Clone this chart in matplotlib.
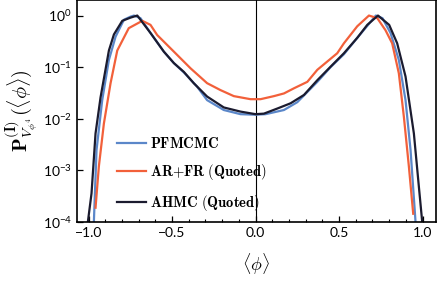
import numpy as np
import matplotlib
matplotlib.use("Agg")
import matplotlib.pyplot as plt
from matplotlib.ticker import MultipleLocator, LogLocator, NullLocator

# PFMCMC
phi_pf = [-0.968, -0.952, -0.918, -0.878, -0.838, -0.788, -0.749, -0.728, -0.689, -0.629,
          -0.549, -0.489, -0.429, -0.350, -0.290, -0.190, -0.090, 0.000, 0.060, 0.170,
          0.250, 0.370, 0.449, 0.529, 0.609, 0.669, 0.720, 0.760, 0.808, 0.858,
          0.898, 0.928, 0.958]
p_pf = [1e-4, 2.5e-3, 0.023, 0.138, 0.39, 0.83, 0.95, 1.0, 0.89, 0.46,
        0.20, 0.12, 0.079, 0.042, 0.023, 0.0148, 0.0123, 0.012, 0.0123, 0.0148,
        0.021, 0.052, 0.10, 0.178, 0.37, 0.63, 1.0, 0.89, 0.46, 0.138,
        0.023, 2.5e-3, 1e-4]

# AR+FR (Quoted)
phi_ar = [-0.958, -0.938, -0.908, -0.868, -0.828, -0.759, -0.678, -0.629, -0.589, -0.489,
          -0.389, -0.290, -0.210, -0.130, -0.030, 0.030, 0.110, 0.170, 0.230, 0.310,
          0.370, 0.489, 0.529, 0.609, 0.679, 0.729, 0.778, 0.818, 0.858, 0.888,
          0.918, 0.944]
p_ar = [1.9e-4, 1.2e-3, 8.1e-3, 0.049, 0.21, 0.57, 0.79, 0.66, 0.42, 0.20,
        0.095, 0.049, 0.036, 0.0275, 0.024, 0.024, 0.0275, 0.031, 0.039, 0.052,
        0.089, 0.186, 0.29, 0.62, 1.0, 0.89, 0.52, 0.29, 0.076, 0.011,
        1.2e-3, 1.45e-4]

# AHMC (Quoted)
phi_ah = [-1.004, -0.982, -0.958, -0.928, -0.878, -0.848, -0.798, -0.749, -0.708, -0.629,
          -0.549, -0.489, -0.429, -0.370, -0.290, -0.190, -0.090, 0.000, 0.050, 0.130,
          0.210, 0.290, 0.370, 0.449, 0.529, 0.609, 0.669, 0.733, 0.800, 0.848,
          0.898, 0.948, 0.978, 0.998]
p_ah = [1e-4, 3.6e-4, 5.2e-3, 0.026, 0.21, 0.43, 0.79, 0.91, 1.0, 0.46,
        0.20, 0.12, 0.081, 0.049, 0.027, 0.0166, 0.0138, 0.0123, 0.0126, 0.0158,
        0.020, 0.029, 0.056, 0.102, 0.186, 0.37, 0.66, 1.0, 0.66, 0.29,
        0.066, 5.2e-3, 4.8e-4, 1e-4]

labels = [r"PFMCMC", r"AR{+}FR\ (Quoted)", r"AHMC\ (Quoted)"]
colors = ["#5b87c9", "#f2603a", "#1b1b2f"]

plt.rcParams["font.family"] = "Lato"
plt.rcParams["mathtext.fontset"] = "custom"
plt.rcParams["mathtext.rm"] = "Lato"
plt.rcParams["mathtext.it"] = "Lato:italic"
plt.rcParams["mathtext.bf"] = "Lato:bold"

fig = plt.figure(figsize=(4.39, 2.84), dpi=100)
ax = fig.add_axes([0.175, 0.218, 0.818, 0.782])

ax.axvline(0, color="black", lw=0.8, zorder=1)
for x, y, lab, c in zip([phi_pf, phi_ar, phi_ah], [p_pf, p_ar, p_ah], labels, colors):
    ax.plot(x, y, color=c, lw=1.6, label=r"$\mathbf{%s}$" % lab, zorder=2)

ax.set_yscale("log")
ax.set_xlim(-1.07, 1.08)
ax.set_ylim(1e-4, 2)
ax.xaxis.set_major_locator(MultipleLocator(0.5))
ax.xaxis.set_minor_locator(MultipleLocator(0.1))
ax.yaxis.set_major_locator(LogLocator(base=10, numticks=10))
ax.yaxis.set_minor_locator(NullLocator())
ax.tick_params(which="both", direction="in", top=False, right=False, labelsize=10)
ax.tick_params(which="major", length=4, width=0.9)
ax.tick_params(which="minor", length=2.5, width=0.8)
for s in ax.spines.values():
    s.set_linewidth(1.2)

ax.set_xlabel(r"$\langle \phi \rangle$", fontsize=13, math_fontfamily="cm", labelpad=9)
ax.set_ylabel(r"$\mathbf{P}^{(\mathbf{I})}_{V_{\phi^4}}(\langle \phi \rangle)$",
              fontsize=14.5, math_fontfamily="cm", labelpad=2)

leg = ax.legend(loc="upper left", bbox_to_anchor=(0.095, 0.415), frameon=False,
                fontsize=10.5, handlelength=2.0, handletextpad=0.3, labelspacing=0.75,
                borderaxespad=0)
for t in leg.get_texts():
    t.set_math_fontfamily("cm")

fig.savefig("out.png", dpi=100)
